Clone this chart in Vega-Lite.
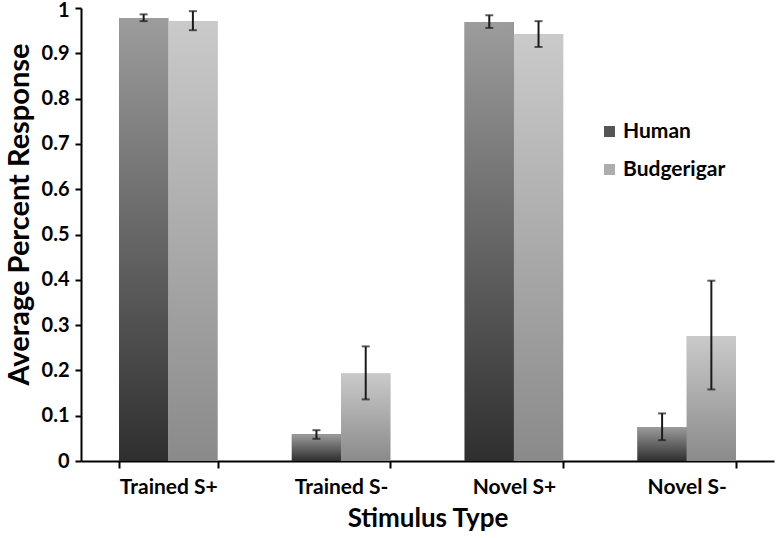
{
  "$schema": "https://vega.github.io/schema/vega-lite/v6.json",
  "autosize": {"type": "none"},
  "padding": {"left": 81, "top": 8, "right": 2, "bottom": 77},
  "width": 693,
  "height": 453,
  "background": "white",
  "config": {
    "font": "Lato",
    "view": {"stroke": null},
    "axis": {"grid": false, "domain": true, "domainColor": "black", "domainWidth": 2, "tickColor": "black", "tickWidth": 2, "labelColor": "black", "titleColor": "black", "labelFont": "Lato", "titleFont": "Lato", "labelFontWeight": "bold", "titleFontWeight": "bold"}
  },
  "data": {
    "values": [
      {"Stimulus": "Trained S+", "Series": "Human", "Value": 0.978, "Lo": 0.971, "Hi": 0.986},
      {"Stimulus": "Trained S+", "Series": "Budgerigar", "Value": 0.971, "Lo": 0.951, "Hi": 0.993},
      {"Stimulus": "Trained S-", "Series": "Human", "Value": 0.059, "Lo": 0.049, "Hi": 0.068},
      {"Stimulus": "Trained S-", "Series": "Budgerigar", "Value": 0.193, "Lo": 0.136, "Hi": 0.253},
      {"Stimulus": "Novel S+", "Series": "Human", "Value": 0.969, "Lo": 0.956, "Hi": 0.984},
      {"Stimulus": "Novel S+", "Series": "Budgerigar", "Value": 0.942, "Lo": 0.914, "Hi": 0.971},
      {"Stimulus": "Novel S-", "Series": "Human", "Value": 0.075, "Lo": 0.046, "Hi": 0.105},
      {"Stimulus": "Novel S-", "Series": "Budgerigar", "Value": 0.276, "Lo": 0.158, "Hi": 0.398}
    ]
  },
  "encoding": {
    "x": {
      "field": "Stimulus", "type": "nominal",
      "sort": ["Trained S+", "Trained S-", "Novel S+", "Novel S-"],
      "scale": {"paddingInner": 0.43, "paddingOuter": 0.22},
      "axis": {"title": "Stimulus Type", "labelAngle": 0, "tickBand": "extent", "tickSize": 7, "labelPadding": 8, "labelFontSize": 21, "titleFontSize": 26, "titlePadding": 8}
    },
    "xOffset": {"field": "Series", "type": "nominal", "sort": ["Human", "Budgerigar"], "scale": {"paddingInner": 0, "paddingOuter": 0}}
  },
  "layer": [
    {
      "mark": {"type": "bar"},
      "encoding": {
        "y": {
          "field": "Value", "type": "quantitative",
          "scale": {"domain": [0, 1], "nice": false},
          "axis": {"title": "Average Percent Response", "domain": true, "domainColor": "black", "domainWidth": 2, "values": [0, 0.1, 0.2, 0.3, 0.4, 0.5, 0.6, 0.7, 0.8, 0.9, 1], "format": ".1~f", "tickSize": 6, "labelPadding": 6, "labelFontSize": 20, "labelOffset": {"condition": {"test": "datum.value === 1", "value": 2}, "value": 0}, "titleFontSize": 29, "titlePadding": 7, "titleY": 206}
        },
        "color": {
          "field": "Series", "type": "nominal",
          "sort": ["Human", "Budgerigar"],
          "scale": {"domain": ["Human", "Budgerigar"], "range": ["#555555", "#adadad"]},
          "legend": {"title": null, "orient": "none", "legendX": 518, "legendY": 113, "symbolType": "square", "symbolSize": 120, "symbolStrokeWidth": 0, "labelFontSize": 21, "labelFont": "Lato", "labelFontWeight": "bold", "labelColor": "black", "rowPadding": 16, "labelOffset": 3}
        }
      }
    },
    {
      "mark": {"type": "bar"},
      "encoding": {
        "y": {"field": "Value", "type": "quantitative"},
        "color": {
          "condition": {
            "test": "datum.Series === 'Human'",
            "value": {"gradient": "linear", "x1": 0, "y1": 0, "x2": 0, "y2": 1, "stops": [{"offset": 0, "color": "#9c9c9c"}, {"offset": 1, "color": "#2f2f2f"}]}
          },
          "value": {"gradient": "linear", "x1": 0, "y1": 0, "x2": 0, "y2": 1, "stops": [{"offset": 0, "color": "#cacaca"}, {"offset": 1, "color": "#8a8a8a"}]}
        }
      }
    },
    {
      "mark": {"type": "rule", "color": "#1a1a1a", "strokeWidth": 2},
      "encoding": {
        "y": {"field": "Lo", "type": "quantitative"},
        "y2": {"field": "Hi"}
      }
    },
    {
      "mark": {"type": "tick", "color": "#1a1a1a", "thickness": 2, "size": 8},
      "encoding": {
        "y": {"field": "Lo", "type": "quantitative"}
      }
    },
    {
      "mark": {"type": "tick", "color": "#1a1a1a", "thickness": 2, "size": 8},
      "encoding": {
        "y": {"field": "Hi", "type": "quantitative"}
      }
    }
  ]
}
